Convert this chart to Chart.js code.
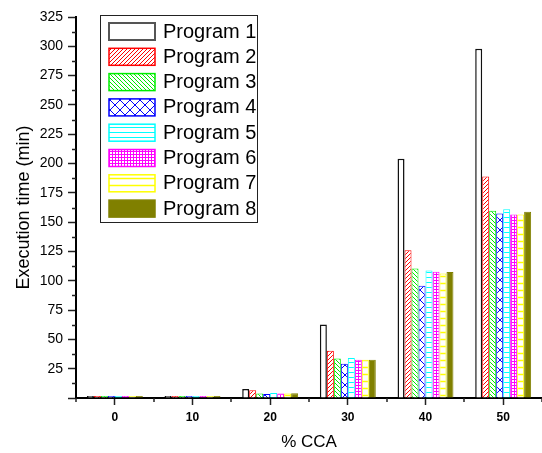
<!DOCTYPE html>
<html>
<head>
<meta charset="utf-8">
<script src="https://cdn.jsdelivr.net/npm/chart.js@4.4.1/dist/chart.umd.min.js"></script>
<style>
html, body { margin: 0; padding: 0; background: #fff; }
#wrap { width: 542px; height: 453px; position: relative; }
</style>
</head>
<body>
<div id="wrap"><canvas id="ccaChart"></canvas></div>
<script>
/* =========================
   DATA
========================= */
const categories = ["0", "10", "20", "30", "40", "50"];

const program1 = [1.6, 1.6, 7.7, 62.6, 204, 298];
const program2 = [1.6, 1.6, 6.6, 40.4, 126, 189];
const program3 = [1.6, 1.6, 3.8, 33.6, 110.5, 159.7];
const program4 = [1.6, 1.6, 3.4, 29.3, 95.8, 157.4];
const program5 = [1.6, 1.6, 4.3, 34.1, 108.8, 161];
const program6 = [1.6, 1.6, 3.8, 32.7, 107.7, 156.6];
const program7 = [1.6, 1.6, 3.8, 32.7, 106.3, 156.6];
const program8 = [1.6, 1.6, 4.1, 32.7, 107.4, 158.9];

const seriesNames = ["Program 1", "Program 2", "Program 3", "Program 4",
                     "Program 5", "Program 6", "Program 7", "Program 8"];
const seriesValues = [program1, program2, program3, program4,
                      program5, program6, program7, program8];

const yMin = 0;
const yMax = 325;
const yStep = 25;

const FONT = "'Liberation Sans', Arial, sans-serif";

/* =========================
   PATTERNS
========================= */
function makePattern(size, color, draw) {
    const c = document.createElement("canvas");
    c.width = size; c.height = size;
    const g = c.getContext("2d");
    g.fillStyle = "#fff";
    g.fillRect(0, 0, size, size);
    g.strokeStyle = color;
    g.lineWidth = 1;
    draw(g, size);
    return g.createPattern(c, "repeat");
}

const ctx = document.getElementById("ccaChart").getContext("2d");

const fills = [
    "#ffffff",
    makePattern(4, "#ff0000", (g, s) => {           // "/" hatch
        g.beginPath();
        g.moveTo(-1, s + 1); g.lineTo(s + 1, -1);
        g.moveTo(-1, 1); g.lineTo(1, -1);
        g.moveTo(s - 1, s + 1); g.lineTo(s + 1, s - 1);
        g.stroke();
    }),
    makePattern(4, "#00ee00", (g, s) => {           // "\" hatch
        g.beginPath();
        g.moveTo(-1, -1); g.lineTo(s + 1, s + 1);
        g.moveTo(-1, s - 1); g.lineTo(1, s + 1);
        g.moveTo(s - 1, -1); g.lineTo(s + 1, 1);
        g.stroke();
    }),
    makePattern(10, "#0000ff", (g, s) => {          // cross hatch
        g.beginPath();
        g.moveTo(0, 0); g.lineTo(s, s);
        g.moveTo(0, s); g.lineTo(s, 0);
        g.stroke();
    }),
    makePattern(5, "#00ffff", (g, s) => {           // horizontal lines
        g.beginPath();
        g.moveTo(0, 2.5); g.lineTo(s, 2.5);
        g.stroke();
    }),
    makePattern(3, "#ff00ff", (g, s) => {           // fine grid
        g.beginPath();
        g.moveTo(0, 1.5); g.lineTo(s, 1.5);
        g.moveTo(1.5, 0); g.lineTo(1.5, s);
        g.stroke();
    }),
    makePattern(7, "#ffff00", (g, s) => {           // sparse horizontal
        g.lineWidth = 1.5;
        g.beginPath();
        g.moveTo(0, 3.5); g.lineTo(s, 3.5);
        g.stroke();
    }),
    "#808000"
];

const borders = ["#111111", "#ff0000", "#00ee00", "#0000ff",
                 "#00ffff", "#ff00ff", "#ffff00", "#808000"];

const datasets = seriesNames.map((name, i) => ({
    label: name,
    data: seriesValues[i],
    backgroundColor: fills[i],
    borderColor: borders[i],
    borderWidth: i === 0 ? 1.5 : 1,
    barPercentage: 1,
    categoryPercentage: 0.72
}));

/* =========================
   PLUGINS
========================= */
// minor ticks on both axes
const minorTicks = {
    id: "minorTicks",
    afterDraw(chart) {
        const g = chart.ctx;
        const x = chart.scales.x;
        const y = chart.scales.y;
        g.save();
        g.strokeStyle = "#222";
        g.lineWidth = 1.5;
        g.beginPath();
        for (let v = yMin + yStep / 2; v < yMax; v += yStep) {
            const py = Math.round(y.getPixelForValue(v)) + 0.5;
            g.moveTo(x.left - 4, py);
            g.lineTo(x.left, py);
        }
        const n = categories.length;
        const w = (x.right - x.left) / n;
        for (let i = 0; i <= n; i++) {
            const px = Math.round(x.left + i * w);
            g.moveTo(px, y.bottom);
            g.lineTo(px, y.bottom + 4);
        }
        g.stroke();
        g.restore();
    }
};

// legend box inside the plot area
const boxLegend = {
    id: "boxLegend",
    afterDraw(chart) {
        const g = chart.ctx;
        const bx = 100, by = 15, bw = 157, bh = 207;
        g.save();
        g.fillStyle = "#fff";
        g.fillRect(bx, by, bw, bh);
        g.strokeStyle = "#222";
        g.lineWidth = 1;
        g.strokeRect(bx + 0.5, by + 0.5, bw, bh);
        g.font = "20px " + FONT;
        g.textBaseline = "middle";
        chart.data.datasets.forEach((ds, i) => {
            const sy = by + 8 + i * 25.3;
            g.fillStyle = ds.backgroundColor;
            g.fillRect(109, sy, 46, 17);
            g.strokeStyle = i === 0 ? "#555" : ds.borderColor;
            g.lineWidth = i === 0 ? 2 : 1.5;
            g.strokeRect(109, sy, 46, 17);
            g.fillStyle = "#000";
            g.fillText(ds.label, 163, sy + 9);
        });
        g.restore();
    }
};

/* =========================
   CHART
========================= */
new Chart(ctx, {
    type: "bar",
    data: { labels: categories, datasets: datasets },
    options: {
        responsive: true,
        maintainAspectRatio: false,
        animation: false,
        layout: { padding: { top: 17, right: 0, bottom: 0, left: 0 } },
        plugins: {
            legend: { display: false },
            tooltip: { enabled: false }
        },
        scales: {
            x: {
                afterFit(scale) { scale.height = 55; },
                grid: {
                    display: true,
                    offset: false,
                    drawOnChartArea: false,
                    drawTicks: true,
                    tickLength: 7,
                    tickWidth: 1.5,
                    tickColor: "#222"
                },
                border: { display: true, color: "#000", width: 2 },
                ticks: {
                    color: "#000",
                    padding: 5,
                    font: { family: FONT, size: 12, weight: "bold" }
                },
                title: {
                    display: true,
                    text: "% CCA",
                    color: "#000",
                    padding: { top: 0, bottom: 0 },
                    font: { family: FONT, size: 17 }
                }
            },
            y: {
                min: yMin,
                max: yMax,
                afterFit(scale) { scale.width = 76; },
                grid: {
                    display: true,
                    drawOnChartArea: false,
                    drawTicks: true,
                    tickLength: 8,
                    tickWidth: 1.5,
                    tickColor: "#222"
                },
                border: { display: true, color: "#000", width: 2 },
                ticks: {
                    stepSize: yStep,
                    color: "#000",
                    padding: 5,
                    font: { family: FONT, size: 14 },
                    callback: v => (v === 0 ? "" : v)
                },
                title: {
                    display: true,
                    text: "Execution time (min)",
                    color: "#000",
                    padding: { top: 13, bottom: 0 },
                    font: { family: FONT, size: 18 }
                }
            }
        }
    },
    plugins: [minorTicks, boxLegend]
});
</script>
</body>
</html>
